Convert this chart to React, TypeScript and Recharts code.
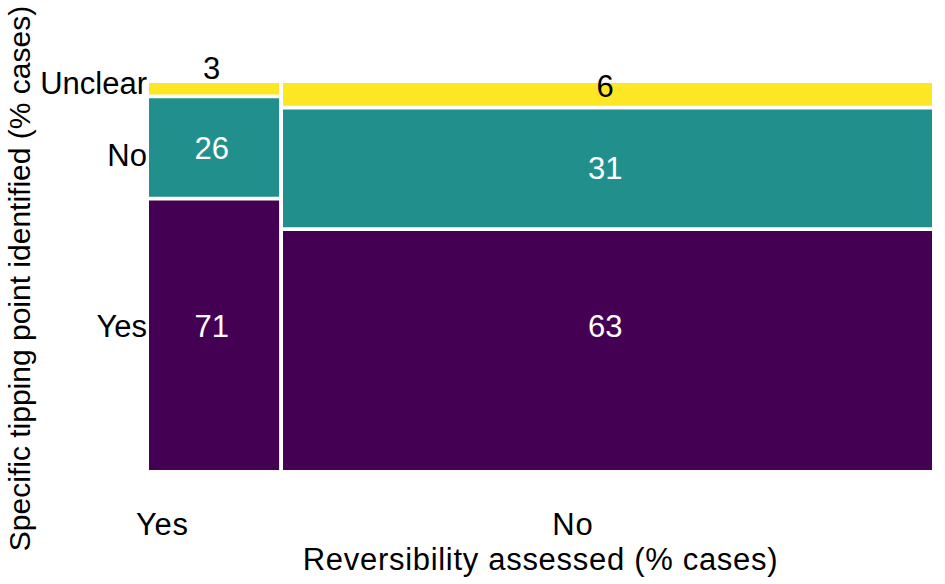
import { ComposedChart, XAxis, YAxis, ReferenceArea, ReferenceDot } from "recharts";

document.body.style.margin = "0";

// mosaic: column widths = share of cases per reversibility answer,
// tiles within a column = share of tipping point answers
const columns = ["Yes", "No"];
const columnShare = [16.7, 83.3];
const rowLevels = ["Yes", "No", "Unclear"];
const sharesReversibilityYes = [71, 26, 3];
const sharesReversibilityNo = [63, 31, 6];
const rowTickValues = [38, 83, 102];
const columnTickValues = [1.7, 54.4];

const LEVEL_COLORS = ["#440154", "#21908C", "#FDE725"];
const LABEL_COLORS = ["#ffffff", "#ffffff", "#000000"];
const FONT = "'Liberation Sans', Arial, sans-serif";
const FONT_SIZE = 31;
const SPACING = 0.7;
const GAP_X = 0.5;
const GAP_Y = 1;

const columnValues = [sharesReversibilityYes, sharesReversibilityNo];

type Tile = { key: string; x1: number; x2: number; y1: number; y2: number; level: number; value: number };

const tiles: Tile[] = [];
let xStart = 0;
columns.forEach((col, i) => {
  const x1 = xStart;
  const x2 = xStart + columnShare[i];
  let yStart = 0;
  columnValues[i].forEach((v, j) => {
    tiles.push({ key: `${col}-${rowLevels[j]}`, x1, x2, y1: yStart, y2: yStart + v, level: j, value: v });
    yStart += v + GAP_Y;
  });
  xStart = x2 + GAP_X;
});

const xMax = xStart - GAP_X;
const yMax = 100 + GAP_Y * (rowLevels.length - 1);

const YTitle = (props: any) => {
  const vb = props.viewBox;
  const cy = vb.y + vb.height / 2 + 2;
  return (
    <text
      x={30}
      y={cy}
      transform={`rotate(-90, 30, ${cy})`}
      textAnchor="middle"
      fontSize={30}
      fontFamily={FONT}
      fill="#000"
    >
      Specific tipping point identified (% cases)
    </text>
  );
};

const XTitle = (props: any) => {
  const vb = props.viewBox;
  return (
    <text
      x={vb.x + vb.width / 2}
      y={570}
      textAnchor="middle"
      fontSize={FONT_SIZE}
      fontFamily={FONT}
      letterSpacing={SPACING}
      fill="#000"
    >
      Reversibility assessed (% cases)
    </text>
  );
};

export default function App() {
  return (
    <div style={{ width: 945, height: 584, background: "#fff" }}>
      <ComposedChart
        width={945}
        height={584}
        data={[]}
        margin={{ top: 83, right: 13, left: 0, bottom: 0 }}
      >
        <XAxis
          type="number"
          dataKey="x"
          domain={[0, xMax]}
          ticks={columnTickValues}
          tickFormatter={(v: number) => columns[columnTickValues.indexOf(v)] ?? ""}
          height={114}
          axisLine={false}
          tickLine={false}
          tickSize={0}
          tickMargin={43}
          interval={0}
          tick={{ fontSize: FONT_SIZE, fill: "#000", fontFamily: FONT, letterSpacing: SPACING }}
          allowDataOverflow
          label={{ content: XTitle }}
        />
        <YAxis
          type="number"
          dataKey="y"
          domain={[0, yMax]}
          ticks={rowTickValues}
          tickFormatter={(v: number) => rowLevels[rowTickValues.indexOf(v)] ?? ""}
          width={149}
          axisLine={false}
          tickLine={false}
          tickSize={0}
          tickMargin={2}
          interval={0}
          tick={{ fontSize: FONT_SIZE, fill: "#000", fontFamily: FONT }}
          allowDataOverflow
          label={{ content: YTitle }}
        />
        {tiles.map((t) => (
          <ReferenceArea
            key={t.key}
            x1={t.x1}
            x2={t.x2}
            y1={t.y1}
            y2={t.y2}
            fill={LEVEL_COLORS[t.level]}
            fillOpacity={1}
            stroke="none"
            ifOverflow="visible"
          />
        ))}
        {tiles.map((t) => {
          const small = t.y2 - t.y1 < 5;
          const top = t.level === 2;
          // bottom row labels sit level with their axis label, top row hangs off the tile top
          const y = t.level === 0 ? rowTickValues[0] : top ? t.y2 : (t.y1 + t.y2) / 2;
          return (
            <ReferenceDot
              key={`lab-${t.key}`}
              x={(t.x1 + t.x2) / 2 - 0.3}
              y={y}
              r={0}
              fill="none"
              stroke="none"
              ifOverflow="visible"
              label={{
                value: String(t.value),
                position: top ? "top" : "center",
                offset: top ? (small ? 4 : -14) : 0,
                fill: LABEL_COLORS[t.level],
                fontSize: FONT_SIZE,
                fontFamily: FONT,
              }}
            />
          );
        })}
      </ComposedChart>
    </div>
  );
}
